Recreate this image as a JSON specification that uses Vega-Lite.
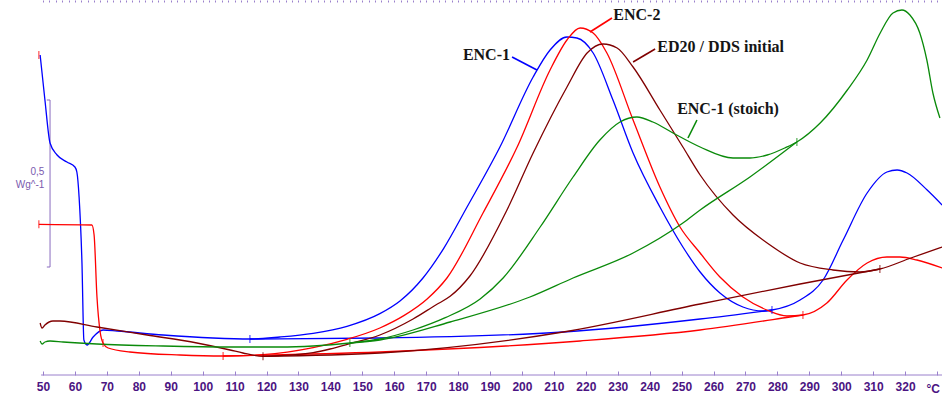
{
  "$schema": "https://vega.github.io/schema/vega-lite/v6.json",
  "width": 942,
  "height": 375,
  "autosize": "none",
  "padding": {"left": 0, "top": 0, "right": 0, "bottom": 22},
  "background": "white",
  "config": {"view": {"stroke": null}},
  "datasets": {
    "curves": [
      {"sample":"ENC-1","part":"curve","temp":49.1,"heat":960},{"sample":"ENC-1","part":"curve","temp":50.6,"heat":825},{"sample":"ENC-1","part":"curve","temp":52.2,"heat":696},{"sample":"ENC-1","part":"curve","temp":54.4,"heat":660},{"sample":"ENC-1","part":"curve","temp":57.5,"heat":639},{"sample":"ENC-1","part":"curve","temp":60.0,"heat":624},{"sample":"ENC-1","part":"curve","temp":60.6,"heat":609},{"sample":"ENC-1","part":"curve","temp":61.3,"heat":534},{"sample":"ENC-1","part":"curve","temp":62.2,"heat":336},{"sample":"ENC-1","part":"curve","temp":62.8,"heat":105},{"sample":"ENC-1","part":"curve","temp":63.8,"heat":90},{"sample":"ENC-1","part":"curve","temp":65.7,"heat":114},{"sample":"ENC-1","part":"curve","temp":68.8,"heat":135},{"sample":"ENC-1","part":"curve","temp":73.2,"heat":132},{"sample":"ENC-1","part":"curve","temp":87.6,"heat":120},{"sample":"ENC-1","part":"curve","temp":103.2,"heat":111},{"sample":"ENC-1","part":"curve","temp":114.8,"heat":108},{"sample":"ENC-1","part":"curve","temp":124.2,"heat":114},{"sample":"ENC-1","part":"curve","temp":134.6,"heat":125},{"sample":"ENC-1","part":"curve","temp":145.2,"heat":146},{"sample":"ENC-1","part":"curve","temp":155.5,"heat":184},{"sample":"ENC-1","part":"curve","temp":161.8,"heat":222},{"sample":"ENC-1","part":"curve","temp":169.0,"heat":291},{"sample":"ENC-1","part":"curve","temp":175.5,"heat":380},{"sample":"ENC-1","part":"curve","temp":182.8,"heat":504},{"sample":"ENC-1","part":"curve","temp":193.1,"heat":684},{"sample":"ENC-1","part":"curve","temp":203.5,"heat":894},{"sample":"ENC-1","part":"curve","temp":208.8,"heat":975},{"sample":"ENC-1","part":"curve","temp":214.1,"heat":1014},{"sample":"ENC-1","part":"curve","temp":217.2,"heat":1011},{"sample":"ENC-1","part":"curve","temp":222.3,"heat":966},{"sample":"ENC-1","part":"curve","temp":228.5,"heat":825},{"sample":"ENC-1","part":"curve","temp":234.8,"heat":666},{"sample":"ENC-1","part":"curve","temp":243.2,"heat":504},{"sample":"ENC-1","part":"curve","temp":250.4,"heat":384},{"sample":"ENC-1","part":"curve","temp":255.8,"heat":309},{"sample":"ENC-1","part":"curve","temp":262.0,"heat":246},{"sample":"ENC-1","part":"curve","temp":269.2,"heat":204},{"sample":"ENC-1","part":"curve","temp":275.5,"heat":192},{"sample":"ENC-1","part":"curve","temp":278.3,"heat":195},{"sample":"ENC-1","part":"curve","temp":287.1,"heat":225},{"sample":"ENC-1","part":"curve","temp":294.3,"heat":285},{"sample":"ENC-1","part":"curve","temp":300.6,"heat":405},{"sample":"ENC-1","part":"curve","temp":308.1,"heat":546},{"sample":"ENC-1","part":"curve","temp":314.3,"heat":609},{"sample":"ENC-1","part":"curve","temp":317.5,"heat":615},{"sample":"ENC-1","part":"curve","temp":320.6,"heat":606},{"sample":"ENC-1","part":"curve","temp":326.9,"heat":555},{"sample":"ENC-1","part":"curve","temp":331.6,"heat":510},
      {"sample":"ENC-1","part":"baseline","temp":114.8,"heat":108},{"sample":"ENC-1","part":"baseline","temp":155.5,"heat":111},{"sample":"ENC-1","part":"baseline","temp":212.9,"heat":129},{"sample":"ENC-1","part":"baseline","temp":255.8,"heat":168},{"sample":"ENC-1","part":"baseline","temp":278.3,"heat":195},
      {"sample":"ENC-2","part":"curve","temp":48.7,"heat":452},{"sample":"ENC-2","part":"curve","temp":65.3,"heat":450},{"sample":"ENC-2","part":"curve","temp":66.0,"heat":420},{"sample":"ENC-2","part":"curve","temp":66.9,"heat":234},{"sample":"ENC-2","part":"curve","temp":67.9,"heat":129},{"sample":"ENC-2","part":"curve","temp":68.8,"heat":96},{"sample":"ENC-2","part":"curve","temp":70.4,"heat":81},{"sample":"ENC-2","part":"curve","temp":77.2,"heat":69},{"sample":"ENC-2","part":"curve","temp":92.9,"heat":60},{"sample":"ENC-2","part":"curve","temp":106.4,"heat":57},{"sample":"ENC-2","part":"curve","temp":118.9,"heat":61},{"sample":"ENC-2","part":"curve","temp":134.6,"heat":82},{"sample":"ENC-2","part":"curve","temp":145.2,"heat":107},{"sample":"ENC-2","part":"curve","temp":155.5,"heat":141},{"sample":"ENC-2","part":"curve","temp":163.0,"heat":178},{"sample":"ENC-2","part":"curve","temp":170.3,"heat":228},{"sample":"ENC-2","part":"curve","temp":176.5,"heat":291},{"sample":"ENC-2","part":"curve","temp":187.8,"heat":486},{"sample":"ENC-2","part":"curve","temp":198.5,"heat":684},{"sample":"ENC-2","part":"curve","temp":208.8,"heat":915},{"sample":"ENC-2","part":"curve","temp":214.1,"heat":1005},{"sample":"ENC-2","part":"curve","temp":218.2,"heat":1041},{"sample":"ENC-2","part":"curve","temp":222.3,"heat":1026},{"sample":"ENC-2","part":"curve","temp":226.6,"heat":966},{"sample":"ENC-2","part":"curve","temp":234.8,"heat":765},{"sample":"ENC-2","part":"curve","temp":243.2,"heat":564},{"sample":"ENC-2","part":"curve","temp":249.5,"heat":444},{"sample":"ENC-2","part":"curve","temp":255.8,"heat":366},{"sample":"ENC-2","part":"curve","temp":262.0,"heat":294},{"sample":"ENC-2","part":"curve","temp":269.2,"heat":234},{"sample":"ENC-2","part":"curve","temp":276.7,"heat":195},{"sample":"ENC-2","part":"curve","temp":283.0,"heat":177},{"sample":"ENC-2","part":"curve","temp":288.0,"heat":180},{"sample":"ENC-2","part":"curve","temp":295.5,"heat":216},{"sample":"ENC-2","part":"curve","temp":301.8,"heat":285},{"sample":"ENC-2","part":"curve","temp":308.1,"heat":336},{"sample":"ENC-2","part":"curve","temp":314.3,"heat":354},{"sample":"ENC-2","part":"curve","temp":318.4,"heat":354},{"sample":"ENC-2","part":"curve","temp":323.7,"heat":345},{"sample":"ENC-2","part":"curve","temp":331.6,"heat":321},
      {"sample":"ENC-2","part":"baseline","temp":106.4,"heat":57},{"sample":"ENC-2","part":"baseline","temp":155.5,"heat":69},{"sample":"ENC-2","part":"baseline","temp":218.2,"heat":102},{"sample":"ENC-2","part":"baseline","temp":255.8,"heat":135},{"sample":"ENC-2","part":"baseline","temp":283.9,"heat":174},{"sample":"ENC-2","part":"baseline","temp":288.0,"heat":180},
      {"sample":"ED20 / DDS initial","part":"curve","temp":49.1,"heat":156},{"sample":"ED20 / DDS initial","part":"curve","temp":49.7,"heat":141},{"sample":"ED20 / DDS initial","part":"curve","temp":50.6,"heat":150},{"sample":"ED20 / DDS initial","part":"curve","temp":53.1,"heat":162},{"sample":"ED20 / DDS initial","part":"curve","temp":55.3,"heat":162},{"sample":"ED20 / DDS initial","part":"curve","temp":66.9,"heat":144},{"sample":"ED20 / DDS initial","part":"curve","temp":82.6,"heat":120},{"sample":"ED20 / DDS initial","part":"curve","temp":98.2,"heat":96},{"sample":"ED20 / DDS initial","part":"curve","temp":108.6,"heat":75},{"sample":"ED20 / DDS initial","part":"curve","temp":112.6,"heat":66},{"sample":"ED20 / DDS initial","part":"curve","temp":118.9,"heat":56},{"sample":"ED20 / DDS initial","part":"curve","temp":124.2,"heat":58},{"sample":"ED20 / DDS initial","part":"curve","temp":134.6,"heat":67},{"sample":"ED20 / DDS initial","part":"curve","temp":139.9,"heat":78},{"sample":"ED20 / DDS initial","part":"curve","temp":146.1,"heat":94},{"sample":"ED20 / DDS initial","part":"curve","temp":155.5,"heat":120},{"sample":"ED20 / DDS initial","part":"curve","temp":165.9,"heat":168},{"sample":"ED20 / DDS initial","part":"curve","temp":173.0,"heat":210},{"sample":"ED20 / DDS initial","part":"curve","temp":177.5,"heat":236},{"sample":"ED20 / DDS initial","part":"curve","temp":183.7,"heat":297},{"sample":"ED20 / DDS initial","part":"curve","temp":195.3,"heat":495},{"sample":"ED20 / DDS initial","part":"curve","temp":203.5,"heat":666},{"sample":"ED20 / DDS initial","part":"curve","temp":214.1,"heat":864},{"sample":"ED20 / DDS initial","part":"curve","temp":220.4,"heat":966},{"sample":"ED20 / DDS initial","part":"curve","temp":225.4,"heat":993},{"sample":"ED20 / DDS initial","part":"curve","temp":229.8,"heat":981},{"sample":"ED20 / DDS initial","part":"curve","temp":234.8,"heat":924},{"sample":"ED20 / DDS initial","part":"curve","temp":243.2,"heat":795},{"sample":"ED20 / DDS initial","part":"curve","temp":250.4,"heat":684},{"sample":"ED20 / DDS initial","part":"curve","temp":255.8,"heat":600},{"sample":"ED20 / DDS initial","part":"curve","temp":266.1,"heat":480},{"sample":"ED20 / DDS initial","part":"curve","temp":276.8,"heat":396},{"sample":"ED20 / DDS initial","part":"curve","temp":287.1,"heat":336},{"sample":"ED20 / DDS initial","part":"curve","temp":297.4,"heat":315},{"sample":"ED20 / DDS initial","part":"curve","temp":305.9,"heat":309},{"sample":"ED20 / DDS initial","part":"curve","temp":312.1,"heat":318},{"sample":"ED20 / DDS initial","part":"curve","temp":321.8,"heat":351},{"sample":"ED20 / DDS initial","part":"curve","temp":331.6,"heat":384},
      {"sample":"ED20 / DDS initial","part":"baseline","temp":118.9,"heat":56},{"sample":"ED20 / DDS initial","part":"baseline","temp":155.5,"heat":66},{"sample":"ED20 / DDS initial","part":"baseline","temp":212.9,"heat":129},{"sample":"ED20 / DDS initial","part":"baseline","temp":255.8,"heat":213},{"sample":"ED20 / DDS initial","part":"baseline","temp":287.1,"heat":273},{"sample":"ED20 / DDS initial","part":"baseline","temp":312.1,"heat":318},
      {"sample":"ENC-1 (stoich)","part":"curve","temp":49.1,"heat":102},{"sample":"ENC-1 (stoich)","part":"curve","temp":49.7,"heat":93},{"sample":"ENC-1 (stoich)","part":"curve","temp":50.6,"heat":99},{"sample":"ENC-1 (stoich)","part":"curve","temp":52.2,"heat":102},{"sample":"ENC-1 (stoich)","part":"curve","temp":56.3,"heat":99},{"sample":"ENC-1 (stoich)","part":"curve","temp":66.9,"heat":93},{"sample":"ENC-1 (stoich)","part":"curve","temp":87.6,"heat":87},{"sample":"ENC-1 (stoich)","part":"curve","temp":108.6,"heat":84},{"sample":"ENC-1 (stoich)","part":"curve","temp":124.2,"heat":84},{"sample":"ENC-1 (stoich)","part":"curve","temp":134.6,"heat":87},{"sample":"ENC-1 (stoich)","part":"curve","temp":146.1,"heat":96},{"sample":"ENC-1 (stoich)","part":"curve","temp":155.5,"heat":108},{"sample":"ENC-1 (stoich)","part":"curve","temp":165.9,"heat":135},{"sample":"ENC-1 (stoich)","part":"curve","temp":176.0,"heat":172},{"sample":"ENC-1 (stoich)","part":"curve","temp":186.9,"heat":228},{"sample":"ENC-1 (stoich)","part":"curve","temp":194.1,"heat":291},{"sample":"ENC-1 (stoich)","part":"curve","temp":205.7,"heat":444},{"sample":"ENC-1 (stoich)","part":"curve","temp":216.0,"heat":594},{"sample":"ENC-1 (stoich)","part":"curve","temp":224.4,"heat":705},{"sample":"ENC-1 (stoich)","part":"curve","temp":230.7,"heat":759},{"sample":"ENC-1 (stoich)","part":"curve","temp":236.0,"heat":774},{"sample":"ENC-1 (stoich)","part":"curve","temp":241.0,"heat":759},{"sample":"ENC-1 (stoich)","part":"curve","temp":247.3,"heat":726},{"sample":"ENC-1 (stoich)","part":"curve","temp":255.8,"heat":684},{"sample":"ENC-1 (stoich)","part":"curve","temp":266.1,"heat":651},{"sample":"ENC-1 (stoich)","part":"curve","temp":271.4,"heat":651},{"sample":"ENC-1 (stoich)","part":"curve","temp":276.8,"heat":660},{"sample":"ENC-1 (stoich)","part":"curve","temp":282.3,"heat":681},{"sample":"ENC-1 (stoich)","part":"curve","temp":286.1,"heat":699},{"sample":"ENC-1 (stoich)","part":"curve","temp":293.4,"heat":756},{"sample":"ENC-1 (stoich)","part":"curve","temp":301.9,"heat":855},{"sample":"ENC-1 (stoich)","part":"curve","temp":308.1,"heat":945},{"sample":"ENC-1 (stoich)","part":"curve","temp":312.2,"heat":1026},{"sample":"ENC-1 (stoich)","part":"curve","temp":316.2,"heat":1086},{"sample":"ENC-1 (stoich)","part":"curve","temp":319.0,"heat":1095},{"sample":"ENC-1 (stoich)","part":"curve","temp":321.5,"heat":1080},{"sample":"ENC-1 (stoich)","part":"curve","temp":324.6,"heat":1026},{"sample":"ENC-1 (stoich)","part":"curve","temp":326.8,"heat":945},{"sample":"ENC-1 (stoich)","part":"curve","temp":328.7,"heat":846},{"sample":"ENC-1 (stoich)","part":"curve","temp":330.9,"heat":771},
      {"sample":"ENC-1 (stoich)","part":"baseline","temp":146.1,"heat":96},{"sample":"ENC-1 (stoich)","part":"baseline","temp":155.5,"heat":105},{"sample":"ENC-1 (stoich)","part":"baseline","temp":177.5,"heat":159},{"sample":"ENC-1 (stoich)","part":"baseline","temp":202.5,"heat":234},{"sample":"ENC-1 (stoich)","part":"baseline","temp":216.0,"heat":291},{"sample":"ENC-1 (stoich)","part":"baseline","temp":234.8,"heat":366},{"sample":"ENC-1 (stoich)","part":"baseline","temp":250.4,"heat":456},{"sample":"ENC-1 (stoich)","part":"baseline","temp":255.8,"heat":495},{"sample":"ENC-1 (stoich)","part":"baseline","temp":271.4,"heat":594},{"sample":"ENC-1 (stoich)","part":"baseline","temp":286.1,"heat":699}
    ],
    "markers": [
      {"sample":"ENC-1","temp":114.8,"heat":108},{"sample":"ENC-1","temp":278.3,"heat":195},
      {"sample":"ENC-2","temp":48.7,"heat":960},{"sample":"ENC-2","temp":48.7,"heat":452},{"sample":"ENC-2","temp":68.8,"heat":96},{"sample":"ENC-2","temp":106.4,"heat":57},{"sample":"ENC-2","temp":288.0,"heat":180},
      {"sample":"ED20 / DDS initial","temp":118.9,"heat":56},{"sample":"ED20 / DDS initial","temp":312.1,"heat":318},
      {"sample":"ENC-1 (stoich)","temp":146.1,"heat":96},{"sample":"ENC-1 (stoich)","temp":286.1,"heat":699}
    ],
    "leaders": [
      {"sample":"ENC-1","t1":196.9,"h1":954,"t2":204.7,"h2":915},
      {"sample":"ENC-2","t1":228.2,"h1":1071,"t2":221.3,"h2":1029},
      {"sample":"ED20 / DDS initial","t1":241.7,"h1":978,"t2":234.8,"h2":939},
      {"sample":"ENC-1 (stoich)","t1":254.8,"h1":765,"t2":252.0,"h2":711}
    ],
    "labels": [
      {"text":"ENC-1","temp":181.5,"heat":960},
      {"text":"ENC-2","temp":228.6,"heat":1080},
      {"text":"ED20 / DDS initial","temp":242.4,"heat":984},
      {"text":"ENC-1 (stoich)","temp":248.6,"heat":798}
    ],
    "scalebar": [
      {"t1":52.2,"h1":324,"t2":52.2,"h2":825},
      {"t1":51.2,"h1":825,"t2":52.2,"h2":825},
      {"t1":51.2,"h1":324,"t2":52.2,"h2":324}
    ],
    "scaletext": [
      {"text":"0,5","temp":50.4,"heat":609},
      {"text":"Wg^-1","temp":50.4,"heat":570}
    ],
    "unit": [
      {"text":"°C","temp":328.8,"heat":-42}
    ],
    "axisline": [
      {"t1":49.4,"t2":331.6,"heat":0}
    ]
  },
  "resolve": {"axis": {"x": "independent", "y": "independent"}},
  "layer": [
    {
      "data": {"name": "axisline"},
      "mark": {"type": "rule", "color": "#9a80cc", "strokeWidth": 1},
      "encoding": {
        "x": {"field": "t1", "type": "quantitative", "scale": {"domain": [36.53, 331.55], "nice": false, "zero": false},
          "axis": {"values": [50,60,70,80,90,100,110,120,130,140,150,160,170,180,190,200,210,220,230,240,250,260,270,280,290,300,310,320,330],
            "domain": false, "grid": false, "title": null, "ticks": true, "tickSize": -4, "tickColor": "#9a80cc", "tickWidth": 1,
            "labelPadding": 10, "labelFont": "Liberation Sans", "labelFontSize": 12, "labelFontWeight": "bold", "labelColor": "#4b1482",
            "labelFlush": false, "labelOverlap": false, "labelExpr": "datum.value == 330 ? '' : datum.label"}},
        "x2": {"field": "t2"},
        "y": {"field": "heat", "type": "quantitative", "scale": {"domain": [0, 1125], "nice": false, "zero": false}, "axis": null}
      }
    },
    {
      "data": {"name": "unit"},
      "mark": {"type": "text", "align": "center", "baseline": "middle", "font": "Liberation Sans", "fontSize": 12, "fontWeight": "bold", "color": "#4b1482"},
      "encoding": {
        "x": {"field": "temp", "type": "quantitative", "scale": {"domain": [36.53, 331.55], "nice": false, "zero": false}, "axis": null},
        "y": {"field": "heat", "type": "quantitative", "scale": {"domain": [0, 1125], "nice": false, "zero": false}, "axis": null},
        "text": {"field": "text"}
      }
    },
    {
      "data": {"name": "scalebar"},
      "mark": {"type": "rule", "color": "#8a6bbf", "strokeWidth": 1},
      "encoding": {
        "x": {"field": "t1", "type": "quantitative", "scale": {"domain": [36.53, 331.55], "nice": false, "zero": false}, "axis": null},
        "x2": {"field": "t2"},
        "y": {"field": "h1", "type": "quantitative", "scale": {"domain": [0, 1125], "nice": false, "zero": false}, "axis": null},
        "y2": {"field": "h2"}
      }
    },
    {
      "data": {"name": "scaletext"},
      "mark": {"type": "text", "align": "right", "baseline": "middle", "font": "Liberation Sans", "fontSize": 10, "color": "#7a5aae"},
      "encoding": {
        "x": {"field": "temp", "type": "quantitative", "scale": {"domain": [36.53, 331.55], "nice": false, "zero": false}, "axis": null},
        "y": {"field": "heat", "type": "quantitative", "scale": {"domain": [0, 1125], "nice": false, "zero": false}, "axis": null},
        "text": {"field": "text"}
      }
    },
    {
      "data": {"name": "curves"},
      "mark": {"type": "line", "strokeWidth": 1.3, "interpolate": "monotone"},
      "encoding": {
        "x": {"field": "temp", "type": "quantitative", "scale": {"domain": [36.53, 331.55], "nice": false, "zero": false}, "axis": null},
        "y": {"field": "heat", "type": "quantitative", "scale": {"domain": [0, 1125], "nice": false, "zero": false}, "axis": null},
        "color": {"field": "sample", "type": "nominal", "legend": null,
          "scale": {"domain": ["ENC-1", "ENC-2", "ED20 / DDS initial", "ENC-1 (stoich)"], "range": ["#0000ff", "#ff0000", "#800000", "#0a8a0a"]}},
        "detail": {"field": "part"}
      }
    },
    {
      "data": {"name": "markers"},
      "mark": {"type": "tick", "orient": "vertical", "size": 8, "thickness": 1.2},
      "encoding": {
        "x": {"field": "temp", "type": "quantitative", "scale": {"domain": [36.53, 331.55], "nice": false, "zero": false},
          "axis": {"values": [50,52,54,56,58,60,62,64,66,68,70,72,74,76,78,80,82,84,86,88,90,92,94,96,98,100,102,104,106,108,110,112,114,116,118,120,122,124,126,128,130,132,134,136,138,140,142,144,146,148,150,152,154,156,158,160,162,164,166,168,170,172,174,176,178,180,182,184,186,188,190,192,194,196,198,200,202,204,206,208,210,212,214,216,218,220,222,224,226,228,230,232,234,236,238,240,242,244,246,248,250,252,254,256,258,260,262,264,266,268,270,272,274,276,278,280,282,284,286,288,290,292,294,296,298,300,302,304,306,308,310,312,314,316,318,320,322,324,326,328,330],
            "domain": false, "grid": false, "title": null, "labels": false, "ticks": true, "tickSize": -2, "tickColor": "#9a80cc", "tickWidth": 1}},
        "y": {"field": "heat", "type": "quantitative", "scale": {"domain": [0, 1125], "nice": false, "zero": false}, "axis": null},
        "color": {"field": "sample", "type": "nominal", "legend": null,
          "scale": {"domain": ["ENC-1", "ENC-2", "ED20 / DDS initial", "ENC-1 (stoich)"], "range": ["#0000ff", "#ff0000", "#800000", "#0a8a0a"]}}
      }
    },
    {
      "data": {"name": "leaders"},
      "mark": {"type": "rule", "strokeWidth": 1.6},
      "encoding": {
        "x": {"field": "t1", "type": "quantitative", "scale": {"domain": [36.53, 331.55], "nice": false, "zero": false}, "axis": null},
        "x2": {"field": "t2"},
        "y": {"field": "h1", "type": "quantitative", "scale": {"domain": [0, 1125], "nice": false, "zero": false}, "axis": null},
        "y2": {"field": "h2"},
        "color": {"field": "sample", "type": "nominal", "legend": null,
          "scale": {"domain": ["ENC-1", "ENC-2", "ED20 / DDS initial", "ENC-1 (stoich)"], "range": ["#0000ff", "#ff0000", "#800000", "#0a8a0a"]}}
      }
    },
    {
      "data": {"name": "labels"},
      "mark": {"type": "text", "align": "left", "baseline": "middle", "font": "Liberation Serif", "fontSize": 16, "fontWeight": "bold", "color": "#151515"},
      "encoding": {
        "x": {"field": "temp", "type": "quantitative", "scale": {"domain": [36.53, 331.55], "nice": false, "zero": false}, "axis": null},
        "y": {"field": "heat", "type": "quantitative", "scale": {"domain": [0, 1125], "nice": false, "zero": false}, "axis": null},
        "text": {"field": "text"}
      }
    }
  ]
}
